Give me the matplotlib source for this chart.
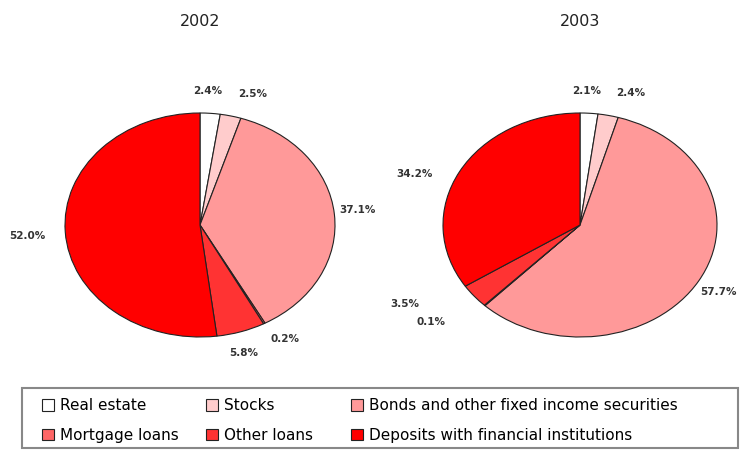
import matplotlib.pyplot as plt
import numpy as np
from matplotlib.patches import Rectangle, Patch

plt.rcParams['font.family'] = ['DejaVu Sans']

categories = ['Real estate', 'Stocks', 'Bonds and other fixed income securities',
              'Mortgage loans', 'Other loans', 'Deposits with financial institutions']
shares_2002 = [2.4, 2.5, 37.1, 0.2, 5.8, 52.0]
shares_2003 = [2.1, 2.4, 57.7, 0.1, 3.5, 34.2]
colors = ['#ffffff', '#ffcccc', '#ff9999', '#ff6666', '#ff3333', '#ff0000']

W, H = 744, 453
fig = plt.figure(figsize=(W / 100, H / 100), dpi=100)


def draw_pie(values, title, cx, cy, rx, ry, nudges):
    # axes in pixel terms so the pie comes out as an ellipse
    m = 1.5
    ax = fig.add_axes([(cx - rx * m) / W, (H - cy - ry * m) / H,
                       2 * rx * m / W, 2 * ry * m / H])
    wedges, _ = ax.pie(values, colors=colors, startangle=90, counterclock=False,
                       wedgeprops=dict(edgecolor='#222222', linewidth=0.8))
    ax.set_xlim(-m, m)
    ax.set_ylim(-m, m)
    ax.set_aspect('auto')
    for w, v, (dx, dy) in zip(wedges, values, nudges):
        ang = np.deg2rad((w.theta1 + w.theta2) / 2)
        ax.text(1.2 * np.cos(ang) + dx, 1.2 * np.sin(ang) + dy, '%.1f%%' % v,
                ha='center', va='center', fontsize=7.5, fontweight='bold',
                color='#333333')
    fig.text(cx / W, 1 - 22 / H, title, ha='center', va='center',
             fontsize=11.5, color='#222222')


draw_pie(shares_2002, '2002', 200, 225, 135, 112,
         [(-0.03, 0), (0.12, 0), (-0.03, 0.02), (0.06, 0.04),
          (-0.04, 0), (-0.08, -0.02)])
draw_pie(shares_2003, '2003', 580, 225, 137, 112,
         [(-0.03, 0), (0.12, 0), (-0.03, 0), (-0.25, 0),
          (-0.35, 0.06), (-0.15, -0.12)])

# legend: three single-column blocks, read row by row
handles = [Patch(facecolor=c, edgecolor='#222222', linewidth=0.8) for c in colors]
col_x = [34, 198, 343]
for k, x in enumerate(col_x):
    idx = [k, k + 3]
    fig.legend([handles[i] for i in idx], [categories[i] for i in idx],
               loc='center left', bbox_to_anchor=(x / W, 1 - 420.5 / H),
               frameon=False, fontsize=11, handlelength=0.8, handleheight=0.8,
               handletextpad=0.4, labelspacing=0.95, borderpad=0)
fig.add_artist(Rectangle((22 / W, 1 - 448 / H), 716 / W, 60 / H,
                         transform=fig.transFigure, fill=False,
                         edgecolor='#888888', linewidth=1.5))

fig.savefig('out.png', dpi=100)
